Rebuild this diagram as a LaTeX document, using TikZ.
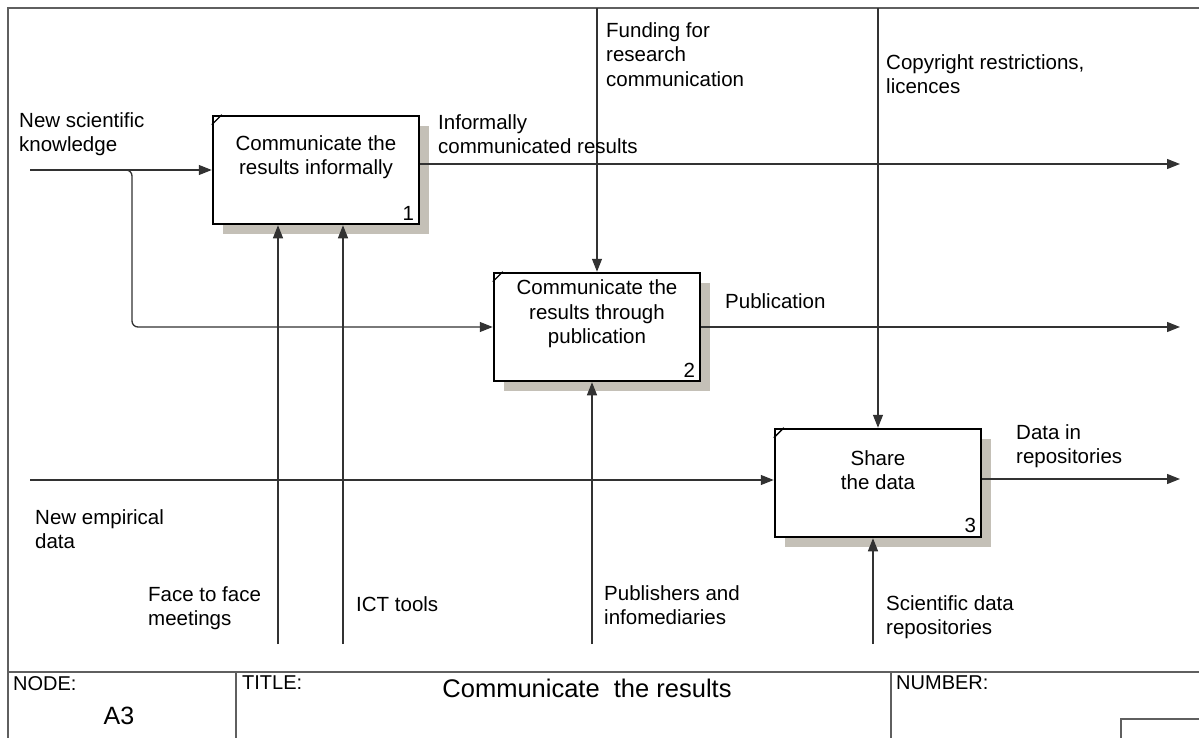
\documentclass[tikz,border=0pt]{standalone}
\usepackage{fontspec}
\setmainfont{Liberation Sans}
\usetikzlibrary{arrows.meta,shadows}
\definecolor{shadowc}{RGB}{196,192,183}
\definecolor{linec}{RGB}{50,50,50}
\definecolor{framec}{RGB}{95,95,95}
\begin{document}
\begin{tikzpicture}[x=1pt,y=-1pt,
  lbl/.style={anchor=north west, inner sep=0pt, align=left, font=\fontsize{20.5}{24.5}\selectfont},
  boxtext/.style={anchor=center, inner sep=0pt, align=center, font=\fontsize{20.5}{24.5}\selectfont},
  numtext/.style={anchor=south east, inner sep=0pt, font=\fontsize{20.5}{24.5}\selectfont},
  actbox/.style={draw=black, line width=2.5pt, fill=white, minimum width=206pt, minimum height=108pt, inner sep=0pt,
    drop shadow={shadow xshift=10pt, shadow yshift=-10pt, fill=shadowc, opacity=1}},
  conn/.style={draw=linec, line width=1.3pt},
  arr/.style={conn, -{Triangle[length=13pt,width=10pt]}},
  frameline/.style={draw=framec, line width=1.4pt},
  tick/.style={draw=black, line width=1.4pt}]
\useasboundingbox (0,0) rectangle (1199,738);
\fill[white] (0,0) rectangle (1199,738);

% frame and title block
\draw[frameline] (1199,8) -- (8,8) -- (8,738);
\draw[frameline] (8,672) -- (1199,672);
\draw[frameline] (236,672) -- (236,738);
\draw[frameline] (891,672) -- (891,738);
\draw[frameline] (1121,738) -- (1121,719) -- (1199,719);
\node[lbl, font=\fontsize{20}{24}\selectfont] (nodelbl) at (13,676) {NODE:};
\node[anchor=center, inner sep=0pt, font=\fontsize{25}{30}\selectfont] (nodeval) at (119,716) {A3};
\node[lbl, font=\fontsize{20}{24}\selectfont] (titlelbl) at (242,676) {TITLE:};
\node[anchor=base, inner sep=0pt, font=\fontsize{25.5}{30}\selectfont] (titleval) at (587,697) {Communicate\ \ the results};
\node[lbl, font=\fontsize{20}{24}\selectfont] (numlbl) at (896,676) {NUMBER:};

% activity boxes
\node[actbox] (b1) at (316,170) {};
\node[actbox] (b2) at (597,327) {};
\node[actbox] (b3) at (878,483) {};
\node[boxtext] (t1) at ([yshift=13pt]b1.center) {Communicate the\\results informally};
\node[boxtext] (t2) at ([yshift=13pt]b2.center) {Communicate the\\results through\\publication};
\node[boxtext] (t3) at ([yshift=13pt]b3.center) {Share\\the data};
\node[numtext] (n1) at ([xshift=-6pt,yshift=5pt]b1.south east) {1};
\node[numtext] (n2) at ([xshift=-6pt,yshift=5pt]b2.south east) {2};
\node[numtext] (n3) at ([xshift=-6pt,yshift=5pt]b3.south east) {3};
\foreach \b in {b1,b2,b3}{
  \draw[tick] ([yshift=-10pt]\b.north west) -- ([xshift=10pt]\b.north west);
}

% free ends
\coordinate (in1) at (30,170);
\coordinate (br) at (132,327);
\coordinate (in3) at (30,480);
\coordinate (out1) at (1180,164);
\coordinate (out2) at (1180,327);
\coordinate (out3) at (1180,479);
\coordinate (c2) at (597,8);
\coordinate (c3) at (878,8);
\coordinate (m1a) at (278,644);
\coordinate (m1b) at (343,644);
\coordinate (m2) at (592,644);
\coordinate (m3) at (873,644);

% inputs
\draw[arr] (in1) -- (b1.west);
\draw[arr, rounded corners=6pt] (in1) -| (br) -- (b2.west);
\draw[arr] (in3) -- (in3 -| b3.west);
% outputs
\draw[arr] (out1 -| b1.east) -- (out1);
\draw[arr] (b2.east) -- (out2);
\draw[arr] (out3 -| b3.east) -- (out3);
% controls
\draw[arr] (c2) -- (b2.north);
\draw[arr] (c3) -- (b3.north);
% mechanisms
\draw[arr] (m1a) -- (m1a |- b1.south);
\draw[arr] (m1b) -- (m1b |- b1.south);
\draw[arr] (m2) -- (m2 |- b2.south);
\draw[arr] (m3) -- (m3 |- b3.south);

% labels
\node[lbl] (lnsk) at (19,112) {New scientific\\knowledge};
\node[lbl] (linf) at (438,114) {Informally\\communicated results};
\node[lbl] (lfund) at (606,22) {Funding for\\research\\communication};
\node[lbl] (lcopy) at (886,54) {Copyright restrictions,\\licences};
\node[lbl] (lpub) at (725,293) {Publication};
\node[lbl] (ldata) at (1016,424) {Data in\\repositories};
\node[lbl] (lemp) at (35,509) {New empirical\\data};
\node[lbl] (lface) at (148,586) {Face to face\\meetings};
\node[lbl] (lict) at (356,596) {ICT tools};
\node[lbl] (lpubl) at (604,585) {Publishers and\\infomediaries};
\node[lbl] (lsci) at (886,595) {Scientific data\\repositories};
\end{tikzpicture}
\end{document}
